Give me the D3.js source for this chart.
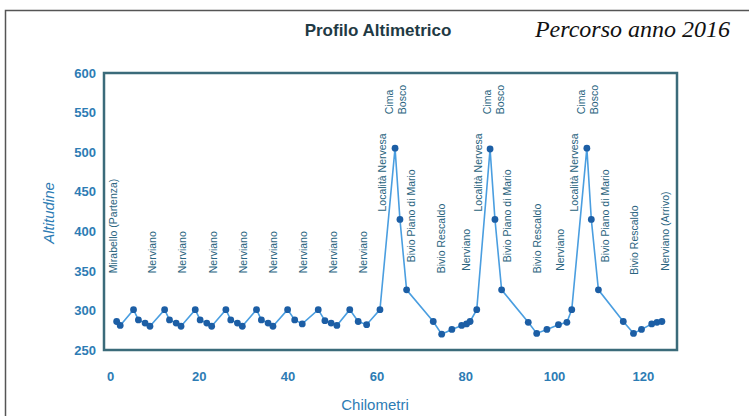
<!DOCTYPE html>
<html>
<head>
<meta charset="utf-8">
<script src="https://cdn.jsdelivr.net/npm/d3@7"></script>
<style>
  html, body { margin: 0; padding: 0; background: #fff; }
  #chart { width: 749px; height: 416px; }
</style>
</head>
<body>
<div id="chart"></div>
<script>
// Profile points: distance (km) and altitude (m)
const km = [
  1.5, 2.3, 5.3, 6.4, 7.9, 9.0,
  12.3, 13.4, 14.9, 16.0,
  19.2, 20.3, 21.8, 22.9,
  26.1, 27.2, 28.7, 29.8,
  33.0, 34.1, 35.6, 36.7,
  40.0, 41.6, 43.3,
  46.9, 48.4, 49.8, 51.1,
  54.0, 55.9, 57.8,
  60.8, 64.2, 65.3, 66.8, 72.8, 74.7, 77.0, 79.2, 80.3, 81.1, 82.6,
  85.6, 86.7, 88.2, 94.2, 96.1, 98.4, 101.0, 102.9, 104.0,
  107.4, 108.4, 110.0, 115.6, 117.9, 119.7, 122.0, 123.2, 124.3
];
const altitude = [
  286, 281, 301, 288, 284, 280,
  301, 288, 284, 280,
  301, 288, 284, 280,
  301, 288, 284, 280,
  301, 288, 284, 280,
  301, 288, 283,
  301, 287, 284, 281,
  301, 286, 282,
  301, 505, 415, 326, 286, 270, 276, 281, 283, 286, 301,
  504, 415, 326, 285, 271, 276, 282, 285, 301,
  505, 415, 326, 286, 271, 276, 283, 285, 286
];

// Place names along the route: position (km) and altitude where the text starts
const placeNames = [
  "Mirabello (Partenza)",
  "Nerviano", "Nerviano", "Nerviano", "Nerviano",
  "Nerviano", "Nerviano", "Nerviano", "Nerviano",
  "Località Nervesa", "Cima|Bosco", "Bivio Piano di Mario", "Bivio Rescaldo", "Nerviano",
  "Località Nervesa", "Cima|Bosco", "Bivio Piano di Mario", "Bivio Rescaldo", "Nerviano",
  "Località Nervesa", "Cima|Bosco", "Bivio Piano di Mario", "Bivio Rescaldo", "Nerviano (Arrivo)"
];
const placeKm = [
  0.7,
  9.6, 16.3, 23.3, 30.0, 36.9, 43.5, 50.3, 57.0,
  61.3, 64.5, 67.8, 74.7, 80.3,
  82.9, 86.4, 89.6, 96.2, 101.4,
  104.7, 107.7, 111.5, 118.2, 125.2
];
const placeAlt = [
  347,
  347, 347, 347, 347, 347, 347, 347, 347,
  425, 548, 361, 347, 350,
  425, 548, 361, 347, 350,
  425, 548, 361, 345, 350
];

const xTicks = [0, 20, 40, 60, 80, 100, 120];
const yTicks = [250, 300, 350, 400, 450, 500, 550, 600];

const W = 749, H = 416;
const plot = { left: 104, right: 677, top: 73, bottom: 350 };
const blue = "#2d7cb4";

const svg = d3.select("#chart").append("svg")
  .attr("width", W)
  .attr("height", H)
  .attr("viewBox", [0, 0, W, H]);

// Page frame (only top and left visible)
svg.append("path")
  .attr("d", `M5.5,${H} V10.5 H${W}`)
  .attr("fill", "none")
  .attr("stroke", "#555")
  .attr("stroke-width", 1.5);

const x = d3.scaleLinear().domain([-1.35, 127.7]).range([plot.left, plot.right]);
const y = d3.scaleLinear().domain([250, 600]).range([plot.bottom, plot.top]);

// Titles
svg.append("text")
  .attr("x", 378).attr("y", 36)
  .attr("text-anchor", "middle")
  .attr("font-family", "Liberation Sans, Arial, sans-serif")
  .attr("font-weight", "bold")
  .attr("font-size", 17)
  .attr("fill", "#1f3a44")
  .text("Profilo Altimetrico");

svg.append("text")
  .attr("x", 730).attr("y", 37)
  .attr("text-anchor", "end")
  .attr("font-family", "Liberation Serif, Times New Roman, serif")
  .attr("font-style", "italic")
  .attr("font-size", 24)
  .attr("fill", "#111")
  .text("Percorso anno 2016");

// Axes
const yAxis = svg.append("g")
  .attr("transform", `translate(${plot.left},0)`)
  .call(d3.axisLeft(y).tickValues(yTicks).tickSize(0).tickPadding(8));
yAxis.select(".domain").remove();
yAxis.selectAll("text")
  .attr("fill", blue)
  .attr("font-family", "Liberation Sans, Arial, sans-serif")
  .attr("font-weight", "bold")
  .attr("font-size", 13);

const xAxis = svg.append("g")
  .attr("transform", `translate(0,${plot.bottom})`)
  .call(d3.axisBottom(x).tickValues(xTicks).tickSize(0).tickPadding(22));
xAxis.select(".domain").remove();
xAxis.selectAll("text")
  .attr("fill", blue)
  .attr("font-family", "Liberation Sans, Arial, sans-serif")
  .attr("font-weight", "bold")
  .attr("font-size", 13);

svg.append("text")
  .attr("transform", `translate(54,213) rotate(-90)`)
  .attr("text-anchor", "middle")
  .attr("font-family", "Liberation Sans, Arial, sans-serif")
  .attr("font-style", "italic")
  .attr("font-size", 15)
  .attr("fill", blue)
  .text("Altitudine");

svg.append("text")
  .attr("x", 375).attr("y", 410)
  .attr("text-anchor", "middle")
  .attr("font-family", "Liberation Sans, Arial, sans-serif")
  .attr("font-size", 15)
  .attr("fill", blue)
  .text("Chilometri");

// Place labels (rotated)
placeNames.forEach((name, i) => {
  const lines = name.split("|");
  const t = svg.append("text")
    .attr("transform", `translate(${x(placeKm[i])},${y(placeAlt[i])}) rotate(-90)`)
    .attr("font-family", "Liberation Sans, Arial, sans-serif")
    .attr("font-size", 10.5)
    .attr("fill", "#2a6480");
  lines.forEach((ln, j) => {
    t.append("tspan")
      .attr("x", 0)
      .attr("dy", j === 0 ? (lines.length > 1 ? -3 : 3.5) : 13)
      .text(ln);
  });
});

// Profile line
const pts = km.map((d, i) => [d, altitude[i]]);
svg.append("path")
  .datum(pts)
  .attr("fill", "none")
  .attr("stroke", "#4a9ee0")
  .attr("stroke-width", 1.6)
  .attr("d", d3.line().x((d) => x(d[0])).y((d) => y(d[1])));

svg.append("g")
  .selectAll("circle")
  .data(pts)
  .join("circle")
  .attr("cx", (d) => x(d[0]))
  .attr("cy", (d) => y(d[1]))
  .attr("r", 3.4)
  .attr("fill", "#1c5ea5");

// Plot frame
svg.append("rect")
  .attr("x", plot.left)
  .attr("y", plot.top)
  .attr("width", plot.right - plot.left)
  .attr("height", plot.bottom - plot.top)
  .attr("fill", "none")
  .attr("stroke", "#3b6b7a")
  .attr("stroke-width", 2.5);
</script>
</body>
</html>
